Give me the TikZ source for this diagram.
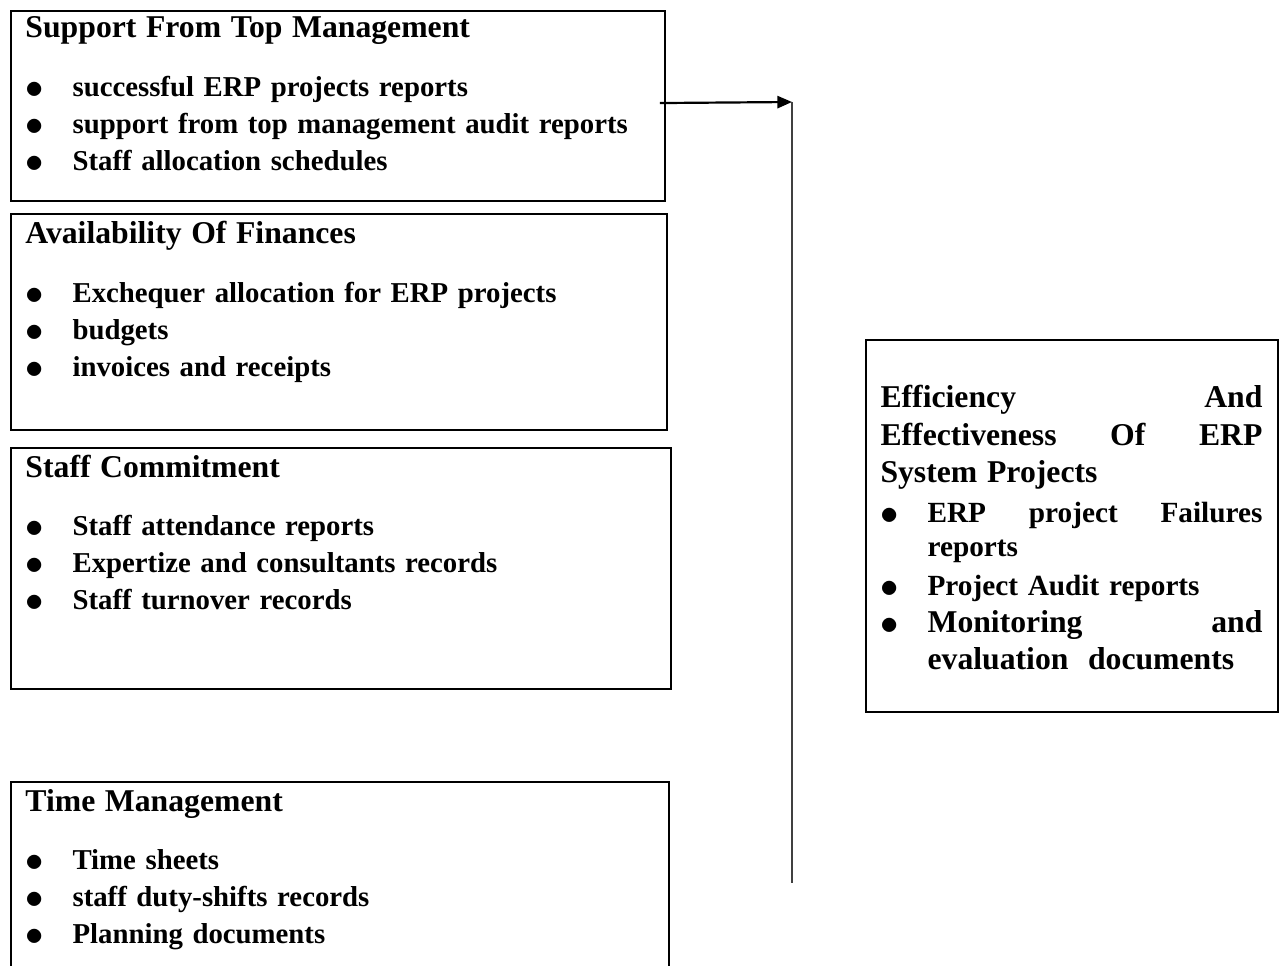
\documentclass[tikz,border=0pt]{standalone}
\usepackage{fontspec}
\setmainfont{Liberation Serif}
\usetikzlibrary{calc, arrows.meta}

\newcommand{\hd}[1]{{\fontsize{13}{15.2}\selectfont #1}}
\newcommand{\itm}[1]{\makebox[19.3pt][l]{\raisebox{-0.8pt}{\scalebox{1.25}{$\bullet$}}}#1}

\begin{document}
\begin{tikzpicture}[x=0.41pt, y=-0.41pt,
    box/.style={draw, line width=0.8pt, inner sep=0pt, anchor=north west},
    txt/.style={anchor=base west, inner sep=0pt, align=left, text width=262pt,
                font=\fontsize{11.8}{15.2}\selectfont\bfseries},
    arr/.style={-{Triangle[length=6pt,width=5pt]}, line width=0.9pt}]
    \useasboundingbox (0,0) rectangle (1280,966);

    % boxes on the left
    \node[box, minimum width=268.1pt, minimum height=77.9pt] (top) at (10,10) {};
    \node[box, minimum width=269pt, minimum height=88.6pt] (fin) at (10,213) {};
    \node[box, minimum width=270.6pt, minimum height=98.8pt] (staff) at (10,447) {};
    \node[box, minimum width=269.8pt, minimum height=84pt] (time) at (10,781) {};
    % box on the right
    \node[box, minimum width=168.9pt, minimum height=152.5pt] (eff) at (865,339) {};

    \node[txt] (topT) at ($(top.north west)+(15,28)$) {\hd{Support From Top Management}\\[8.8pt]
        \itm{successful ERP projects reports}\\
        \itm{support from top management audit reports}\\
        \itm{Staff allocation schedules}};
    \node[txt] (finT) at ($(fin.north west)+(15,31)$) {\hd{Availability Of Finances}\\[8.8pt]
        \itm{Exchequer allocation for ERP projects}\\
        \itm{budgets}\\
        \itm{invoices and receipts}};
    \node[txt] (staffT) at ($(staff.north west)+(15,30)$) {\hd{Staff Commitment}\\[8.8pt]
        \itm{Staff attendance reports}\\
        \itm{Expertize and consultants records}\\
        \itm{Staff turnover records}};
    \node[txt] (timeT) at ($(time.north west)+(15,30)$) {\hd{Time Management}\\[8.8pt]
        \itm{Time sheets}\\
        \itm{staff duty-shifts records}\\
        \itm{Planning documents}};

    \node[txt, text width=156.6pt, font=\fontsize{12}{15.2}\selectfont\bfseries] (effT)
        at ($(eff.north west)+(15,69)$) {%
        \hd{Efficiency\hfill And}\\
        \hd{Effectiveness\hfill Of\hfill ERP}\\
        \hd{System Projects}\\[1.5pt]
        \itm{ERP\hfill project\hfill Failures}\\[-1.5pt]
        \hspace*{19.3pt}reports\\[1pt]
        \itm{Project Audit reports}\\
        \itm{\hd{Monitoring\hfill and}}\\
        \hspace*{19.3pt}\hd{evaluation\ \ documents}};

    % link to the right
    \coordinate (lt) at (792,102);
    \coordinate (lb) at (792,883);
    \draw[arr] ([xshift=-2.5pt, yshift=1.2pt]top.east) -- (lt);
    \draw[line width=0.5pt, black!75] (lt) -- (lb);
\end{tikzpicture}
\end{document}
